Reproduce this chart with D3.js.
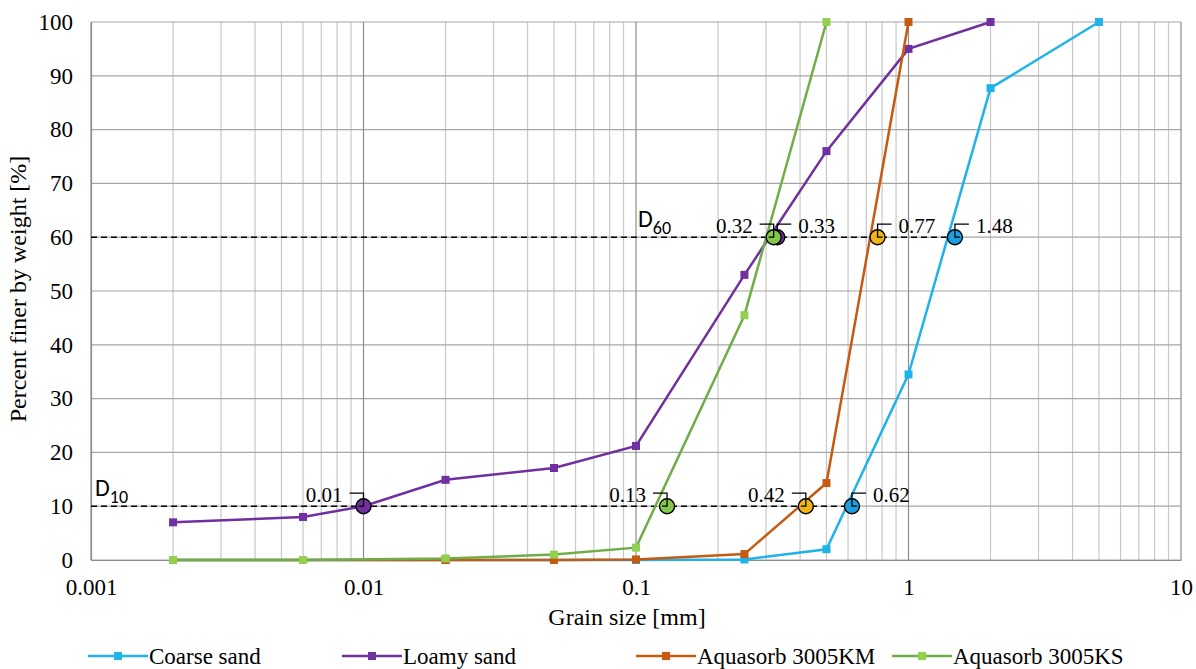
<!DOCTYPE html>
<html>
<head>
<meta charset="utf-8">
<script src="https://cdn.jsdelivr.net/npm/d3@7/dist/d3.min.js"></script>
<style>
  body { margin: 0; background: #fff; }
</style>
</head>
<body>
<div id="chart"></div>
<script>
// grain size distribution
const coarseSize = [0.002, 0.006, 0.02, 0.05, 0.1, 0.25, 0.5, 1, 2, 5];
const coarseFiner = [0, 0, 0, 0, 0, 0.1, 2, 34.5, 87.7, 100];

const loamySize = [0.002, 0.006, 0.01, 0.02, 0.05, 0.1, 0.25, 0.5, 1, 2];
const loamyFiner = [7, 8, 10, 14.9, 17.1, 21.2, 53, 76, 95, 100];

const kmSize = [0.002, 0.006, 0.02, 0.05, 0.1, 0.25, 0.5, 1];
const kmFiner = [0, 0, 0, 0, 0.1, 1.1, 14.3, 100];

const ksSize = [0.002, 0.006, 0.02, 0.05, 0.1, 0.25, 0.5];
const ksFiner = [0, 0, 0.3, 1, 2.3, 45.5, 100];

const seriesNames = ['Coarse sand', 'Loamy sand', 'Aquasorb 3005KM', 'Aquasorb 3005KS'];
const lineColors = ['#1fb3e8', '#7030a0', '#c55a11', '#70ad47'];
const markerColors = ['#1fb3e8', '#7030a0', '#c55a11', '#92d050'];
const circleColors = ['#1c9fe0', '#7030a0', '#f0b419', '#82c84a'];

// characteristic diameters per series
const d10 = [0.62, 0.01, 0.42, 0.13];
const d60 = [1.48, 0.33, 0.77, 0.32];
const d10Side = ['right', 'left', 'left', 'left'];
const d60Side = ['right', 'right', 'right', 'left'];

const xTicks = [0.001, 0.01, 0.1, 1, 10];
const yTicks = d3.range(0, 101, 10);

const SERIF = '"Liberation Serif", "Times New Roman", serif';
const SANS = 'Carlito, "Open Sans", sans-serif';

const W = 1196, H = 669;
const margin = { left: 91, right: 15, top: 22, bottom: 109 };
const width = W - margin.left - margin.right;
const height = H - margin.top - margin.bottom;

const svg = d3.select('#chart').append('svg')
  .attr('width', W).attr('height', H)
  .style('font-family', SERIF);

const g = svg.append('g').attr('transform', `translate(${margin.left},${margin.top})`);

const x = d3.scaleLog().domain([0.001, 10]).range([0, width]);
const y = d3.scaleLinear().domain([0, 100]).range([height, 0]);

// minor vertical grid
const minor = [];
for (let dec = 0.001; dec < 10; dec *= 10) {
  for (let k = 2; k <= 9; k++) minor.push(+(dec * k).toPrecision(3));
}
g.append('g').selectAll('line').data(minor).join('line')
  .attr('x1', d => x(d)).attr('x2', d => x(d))
  .attr('y1', 0).attr('y2', height)
  .attr('stroke', '#c8c8c8').attr('stroke-width', 1.2);

// horizontal grid
g.append('g').selectAll('line').data(yTicks).join('line')
  .attr('x1', 0).attr('x2', width)
  .attr('y1', d => y(d)).attr('y2', d => y(d))
  .attr('stroke', '#a6a6a6').attr('stroke-width', 1.2);

// major vertical grid
g.append('g').selectAll('line').data(xTicks).join('line')
  .attr('x1', d => x(d)).attr('x2', d => x(d))
  .attr('y1', 0).attr('y2', height)
  .attr('stroke', '#8c8c8c').attr('stroke-width', 1.2);

// axes
const xAxis = g.append('g').attr('transform', `translate(0,${height})`)
  .call(d3.axisBottom(x).tickValues(xTicks).tickSize(0).tickPadding(19)
    .tickFormat(d => String(d)));
const yAxis = g.append('g')
  .call(d3.axisLeft(y).tickValues(yTicks).tickSize(0).tickPadding(18));
[xAxis, yAxis].forEach(a => {
  a.select('.domain').attr('stroke', '#8c8c8c').attr('stroke-width', 1.2);
  a.selectAll('text')
    .style('font-family', SERIF).style('font-size', '23px').attr('fill', '#000');
});

// dashed D-lines
const dLevels = [
  { level: 10, end: d3.max(d10), label: '10', lx: 4 },
  { level: 60, end: d3.max(d60), label: '60', lx: x(0.1) + 2 }
];
dLevels.forEach(d => {
  g.append('line')
    .attr('x1', 0).attr('x2', x(d.end))
    .attr('y1', y(d.level)).attr('y2', y(d.level))
    .attr('stroke', '#000').attr('stroke-width', 1.6)
    .attr('stroke-dasharray', '6,4');
  const t = g.append('text')
    .attr('x', d.lx).attr('y', y(d.level) - 10)
    .style('font-family', SANS)
    .style('font-size', '24px');
  t.append('tspan').text('D');
  t.append('tspan').attr('dy', 7).style('font-size', '18px').text(d.label);
});

// series
const series = [
  { size: coarseSize, finer: coarseFiner },
  { size: loamySize, finer: loamyFiner },
  { size: kmSize, finer: kmFiner },
  { size: ksSize, finer: ksFiner }
];

const line = d3.line().x(d => x(d[0])).y(d => y(d[1]));

series.forEach((s, i) => {
  const pts = s.size.map((v, j) => [v, s.finer[j]]);
  g.append('path').datum(pts)
    .attr('d', line)
    .attr('fill', 'none')
    .attr('stroke', lineColors[i])
    .attr('stroke-width', 2.5);
  g.append('g').selectAll('rect').data(pts).join('rect')
    .attr('x', d => x(d[0]) - 4).attr('y', d => y(d[1]) - 4)
    .attr('width', 8).attr('height', 8)
    .attr('fill', markerColors[i]);
});

// D markers with leader lines and labels
function dMarker(val, level, color, side) {
  const cx = x(val), cy = y(level);
  const ly = cy - 13;
  const dir = side === 'right' ? 1 : -1;
  g.append('path')
    .attr('d', `M${cx},${cy}V${ly}H${cx + dir * 14}`)
    .attr('fill', 'none').attr('stroke', '#000').attr('stroke-width', 1.3);
  g.append('circle')
    .attr('cx', cx).attr('cy', cy).attr('r', 7.5)
    .attr('fill', color).attr('stroke', '#000').attr('stroke-width', 1.4);
  g.append('path')
    .attr('d', `M${cx},${cy - 7}V${cy}H${cx + dir * 5}`)
    .attr('fill', 'none').attr('stroke', '#000').attr('stroke-width', 1.3);
  g.append('text')
    .attr('x', cx + dir * 21)
    .attr('y', cy - 4)
    .attr('text-anchor', side === 'right' ? 'start' : 'end')
    .style('font-size', '21px')
    .text(val.toFixed(2));
}

[2, 1, 3, 0].forEach(i => {
  dMarker(d10[i], 10, circleColors[i], d10Side[i]);
  dMarker(d60[i], 60, circleColors[i], d60Side[i]);
});

// axis titles
svg.append('text')
  .attr('x', 627)
  .attr('y', 625)
  .attr('text-anchor', 'middle')
  .style('font-size', '24px')
  .text('Grain size [mm]');

svg.append('text')
  .attr('transform', 'rotate(-90)')
  .attr('x', -(margin.top + height / 2) + 2)
  .attr('y', 26)
  .attr('text-anchor', 'middle')
  .style('font-size', '24px')
  .text('Percent finer by weight [%]');

// legend
const legendX = [88, 342, 636, 892];
const legend = svg.append('g');
seriesNames.forEach((name, i) => {
  const lg = legend.append('g').attr('transform', `translate(${legendX[i]},656)`);
  lg.append('line').attr('x1', 0).attr('x2', 60).attr('y1', 0).attr('y2', 0)
    .attr('stroke', lineColors[i]).attr('stroke-width', 2.5);
  lg.append('rect').attr('x', 26).attr('y', -4).attr('width', 8).attr('height', 8)
    .attr('fill', markerColors[i]);
  lg.append('text').attr('x', 61).attr('y', 8).style('font-size', '23px').text(name);
});
</script>
</body>
</html>
